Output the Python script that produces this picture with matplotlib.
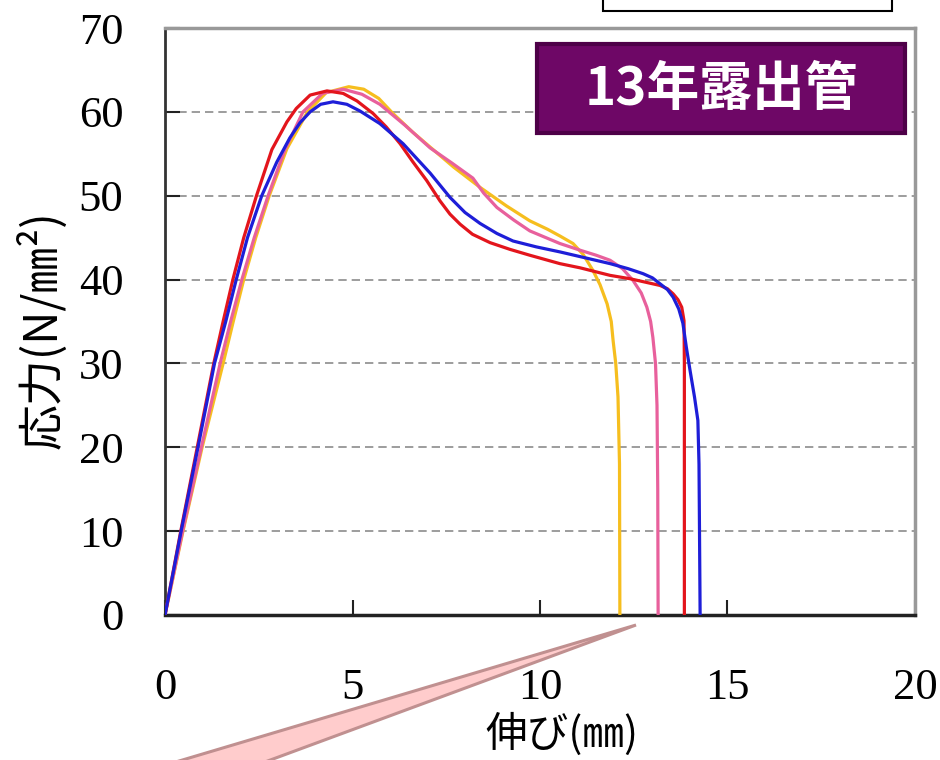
import matplotlib
matplotlib.use('Agg')
import matplotlib.pyplot as plt
from matplotlib.patches import Rectangle, Polygon

# elongation (mm) / stress (N/mm2) for each test piece
red_x = [0, 0.42, 0.86, 1.3, 1.55, 1.81, 2.1, 2.44, 2.85, 3.25, 3.5, 3.87, 4.32, 4.75,
         5.12, 5.55, 5.9, 6.27, 6.6, 6.98, 7.33, 7.6, 7.87, 8.2, 8.67, 9.2, 9.73, 10.53,
         11.07, 11.87, 12.4, 12.8, 13.2, 13.4, 13.55, 13.68, 13.78, 13.84, 13.85, 13.85]
red_y = [0, 10, 20, 30, 35, 40, 45, 50, 55.5, 58.8, 60.4, 62.0, 62.5, 62.2,
         61.3, 59.8, 58.2, 56.2, 54.1, 51.8, 49.4, 47.8, 46.6, 45.4, 44.4, 43.6, 42.9, 41.9,
         41.4, 40.5, 40.1, 39.7, 39.3, 38.9, 38.3, 37.6, 36.7, 35.1, 30, 0]

yellow_x = [0, 0.48, 0.99, 1.55, 1.82, 2.1, 2.42, 2.78, 3.25, 3.8, 4.3, 4.9, 5.3, 5.7,
            6.08, 6.6, 7.07, 7.7, 8.4, 9.1, 9.73, 10.2, 10.53, 10.88, 11.15, 11.41, 11.6,
            11.79, 11.9, 11.95, 12.02, 12.08, 12.12, 12.13]
yellow_y = [0, 10, 20, 30, 35, 40, 45, 50, 55.6, 60, 62.3, 63.0, 62.7, 61.6,
            59.8, 57.6, 55.8, 53.4, 51.0, 48.8, 47.0, 46.0, 45.2, 44.3, 43.0, 41.1, 39.4,
            37.1, 35, 32.7, 30, 26, 18, 0]

pink_x = [0, 0.47, 0.97, 1.47, 1.75, 2.05, 2.38, 2.75, 3.2, 3.68, 4.2, 4.75, 5.25, 5.73,
          6.4, 7.07, 7.65, 8.21, 8.5, 8.85, 9.3, 9.73, 10.53, 11.07, 11.5, 11.87, 12.2,
          12.48, 12.7, 12.85, 12.95, 13.01, 13.08, 13.12, 13.14, 13.15]
pink_y = [0, 10, 20, 30, 35, 40, 45, 50, 55.5, 60, 62.2, 62.7, 62.1, 60.9,
          58.4, 55.7, 53.9, 52.1, 50.3, 48.6, 47.1, 45.8, 44.3, 43.5, 42.9, 42.3, 41.3,
          39.9, 38.4, 36.7, 35, 33.1, 30, 25, 15, 0]

blue_x = [0, 0.43, 0.88, 1.32, 1.62, 1.9, 2.2, 2.58, 2.98, 3.33, 3.6, 3.87, 4.15, 4.48,
          4.85, 5.2, 5.73, 6.35, 7.07, 7.6, 8.0, 8.4, 8.85, 9.28, 9.9, 10.53, 11.2, 11.87,
          12.35, 12.75, 13.0, 13.2, 13.4, 13.55, 13.7, 13.81, 13.9, 14.0, 14.12, 14.21,
          14.24, 14.27]
blue_y = [0, 10, 20, 30, 35, 40, 45, 50, 54, 56.9, 58.7, 60, 60.9, 61.2,
          60.9, 60.1, 58.6, 56.2, 52.7, 49.8, 48.0, 46.7, 45.5, 44.6, 43.9, 43.3, 42.6, 41.9,
          41.3, 40.7, 40.2, 39.5, 38.8, 37.9, 36.5, 34.8, 32, 29.2, 26, 23.2,
          18, 0]

x_ticks = [0, 5, 10, 15, 20]
y_ticks = [0, 10, 20, 30, 40, 50, 60, 70]

W, H = 940, 760
fig = plt.figure(figsize=(W / 100, H / 100), dpi=100)
ax = fig.add_axes([165 / W, 1 - 615 / H, 750 / W, 587 / H])

line_kw = dict(lw=2.3, solid_joinstyle='round', solid_capstyle='round')
ax.plot(yellow_x, yellow_y, color='#F6BE1E', zorder=3, **line_kw)
ax.plot(pink_x, pink_y, color='#E8609C', zorder=4, **line_kw)
ax.plot(red_x, red_y, color='#E3151C', zorder=5, **line_kw)
ax.plot(blue_x, blue_y, color='#1E1ED8', zorder=6, **line_kw)

ax.set_xlim(0, 20)
ax.set_ylim(0, 70)
ax.set_xticks(x_ticks)
ax.set_yticks(y_ticks)
ax.set_axisbelow(True)
ax.yaxis.grid(True, linestyle=(0, (5, 3)), color='#8c8c8c', lw=1.2)

for side in ['top', 'right']:
    ax.spines[side].set_color('#999999')
    ax.spines[side].set_linewidth(2.5)
ax.spines['left'].set_color('#333333')
ax.spines['left'].set_linewidth(2)
ax.spines['bottom'].set_color('#222222')
ax.spines['bottom'].set_linewidth(2.5)

ax.tick_params(direction='in', length=11, width=1.5, color='#222222')
ax.tick_params(axis='y', pad=30)
ax.tick_params(axis='x', pad=38)
for lab in ax.get_xticklabels() + ax.get_yticklabels():
    lab.set_fontfamily('Liberation Serif')
    lab.set_fontsize(32)

cjk = ['Noto Sans CJK JP', 'DejaVu Sans']
fig.text(562 / W, 1 - 734 / H, '伸び(㎜)', family=cjk, fontsize=30,
         ha='center', va='center')
fig.text(42 / W, 1 - 330 / H, '応力(N/㎜²)', family=cjk, fontsize=33,
         ha='center', va='center', rotation=90)

# title badge
fig.patches.append(Rectangle((537 / W, 1 - 133 / H), 368 / W, 89 / H,
                             transform=fig.transFigure, facecolor='#6E0766',
                             edgecolor='#4E0048', lw=3, zorder=10))
fig.text(721 / W, 1 - 90 / H, '13年露出管', family=cjk, fontsize=38,
         fontweight='bold', color='white', ha='center', va='center', zorder=11)

# empty box at the top edge
fig.patches.append(Rectangle((603 / W, 1 - 11 / H), 289 / W, 30 / H,
                             transform=fig.transFigure, facecolor='white',
                             edgecolor='black', lw=1.5, zorder=10, clip_on=False))

# callout wedge
wedge = [(636, 625), (48, 800), (162, 800)]
fig.patches.append(Polygon([(px / W, 1 - py / H) for px, py in wedge], closed=True,
                           transform=fig.transFigure, facecolor='#FFCCCC',
                           edgecolor='#C09090', lw=2.2, zorder=9, clip_on=False))

fig.savefig('out.png', dpi=100)
